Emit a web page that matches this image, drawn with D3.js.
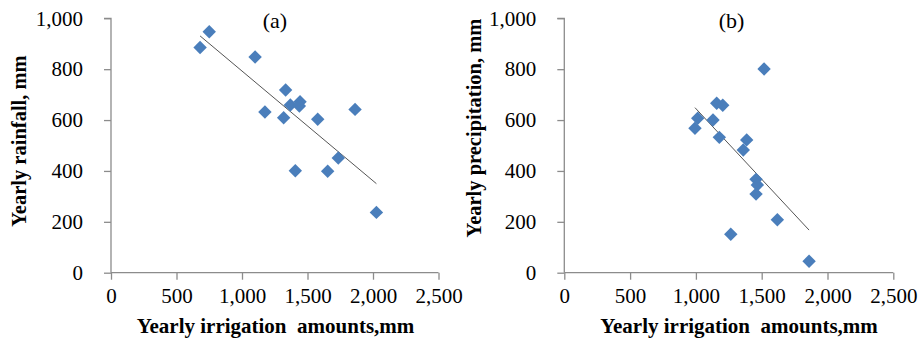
<!DOCTYPE html>
<html><head><meta charset="utf-8">
<script src="https://cdn.jsdelivr.net/npm/d3@7"></script>
<style>body{margin:0;background:#fff}svg{display:block}</style>
</head><body>
<svg id="c" width="918" height="344"></svg>
<script>
// Panel (a): irrigation vs yearly rainfall
const irrigationA = [680, 750, 1100, 1175, 1333, 1318, 1369, 1443, 1438, 1407, 1578, 1654, 1735, 1863, 2026];
const rainfallA   = [885, 947, 848, 632, 718, 609, 659, 672, 655, 401, 603, 399, 451, 642, 237];
// Panel (b): irrigation vs yearly precipitation
const irrigationB = [1518, 1158, 1204, 1014, 993, 1130, 1178, 1386, 1360, 1457, 1467, 1457, 1619, 1265, 1860];
const precipB     = [801, 666, 658, 607, 568, 600, 532, 522, 482, 367, 345, 309, 208, 151, 45];

const xTicks = [0, 500, 1000, 1500, 2000, 2500];
const yTicks = [0, 200, 400, 600, 800, 1000];
const titles = ["(a)", "(b)"];
const yLabels = ["Yearly rainfall, mm", "Yearly precipitation, mm"];
const xLabel = "Yearly irrigation  amounts,mm";

const svg = d3.select("#c");
const fmt = d3.format(",");
const font = "'Liberation Serif','Times New Roman',serif";
const axisColor = "#8c8c8c";

const panels = [
  {xs: irrigationA, ys: rainfallA, x0: 111, x1: 438.5, title: titles[0], yl: yLabels[0], ylx: 19, ylc: 141, xlc: 275.5, tx: 275},
  {xs: irrigationB, ys: precipB,   x0: 564.3, x1: 893.3, title: titles[1], yl: yLabels[1], ylx: 474, ylc: 128, xlc: 739, tx: 731.5}
];

panels.forEach(p => {
  const x = d3.scaleLinear().domain([0, 2500]).range([p.x0, p.x1]);
  const y = d3.scaleLinear().domain([0, 1000]).range([272.7, 18.3]);
  const g = svg.append("g");

  // axes
  const ya = g.append("g").attr("transform", `translate(${p.x0},0)`)
    .call(d3.axisLeft(y).tickValues(yTicks).tickSize(7).tickPadding(21).tickFormat(fmt));
  const xa = g.append("g").attr("transform", `translate(0,${y(0)})`)
    .call(d3.axisBottom(x).tickValues(xTicks).tickSize(7).tickPadding(8).tickFormat(fmt));
  [ya, xa].forEach(a => {
    a.select(".domain").attr("stroke", axisColor).attr("stroke-width", 1.3);
    a.selectAll(".tick line").attr("stroke", axisColor).attr("stroke-width", 1.3);
    a.selectAll("text").attr("font-family", font).attr("font-size", 21).attr("fill", "#000");
  });
  ya.select(".domain").attr("d", `M-7,${y(1000)}H0V${y(0)}`);
  xa.select(".domain").attr("d", `M${x(0)},0H${x(2500)}`);

  // trend line (least squares)
  const n = p.xs.length;
  const mx = d3.mean(p.xs), my = d3.mean(p.ys);
  let sxy = 0, sxx = 0;
  for (let i = 0; i < n; i++) { sxy += (p.xs[i]-mx)*(p.ys[i]-my); sxx += (p.xs[i]-mx)**2; }
  const b = sxy / sxx, a0 = my - b*mx;
  const xmin = d3.min(p.xs), xmax = d3.max(p.xs);
  g.append("line")
    .attr("x1", x(xmin)).attr("y1", y(a0 + b*xmin))
    .attr("x2", x(xmax)).attr("y2", y(a0 + b*xmax))
    .attr("stroke", "#555").attr("stroke-width", 1);

  // markers
  const sym = d3.symbol(d3.symbolSquare, 90);
  g.selectAll("path.pt").data(p.xs.map((v, i) => [v, p.ys[i]])).join("path")
    .attr("class", "pt")
    .attr("d", sym)
    .attr("transform", d => `translate(${x(d[0])},${y(d[1])}) rotate(45)`)
    .attr("fill", "#4a7ebb");

  // title
  g.append("text").attr("x", p.tx).attr("y", 28)
    .attr("text-anchor", "middle").attr("font-family", font).attr("font-size", 22).text(p.title);

  // y label
  g.append("text").attr("transform", `translate(${p.ylx + 7},${p.ylc}) rotate(-90)`)
    .attr("text-anchor", "middle").attr("font-family", font).attr("font-size", 20.5)
    .attr("font-weight", "bold").text(p.yl);

  // x label
  g.append("text").attr("x", p.xlc).attr("y", 333).attr("xml:space", "preserve")
    .style("white-space", "pre")
    .attr("text-anchor", "middle").attr("font-family", font).attr("font-size", 21)
    .attr("font-weight", "bold").text(xLabel);
});
</script>
</body></html>
